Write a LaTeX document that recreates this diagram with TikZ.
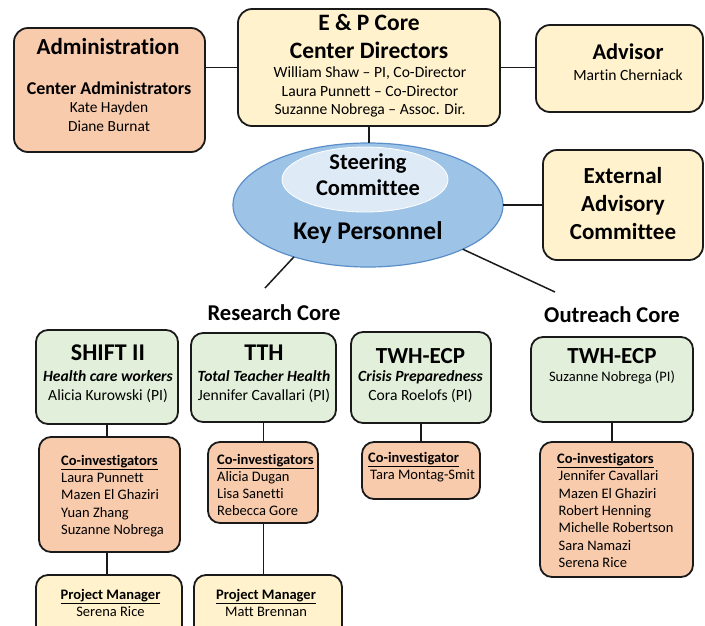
\documentclass[tikz,border=0pt]{standalone}
\usepackage{fontspec}
\setmainfont{Carlito}[Ligatures=NoCommon]
\usetikzlibrary{shapes.geometric}
\definecolor{peach}{HTML}{F8CBAD}
\definecolor{cream}{HTML}{FFF2CC}
\definecolor{mint}{HTML}{E2EFDA}
\definecolor{kpblue}{HTML}{9DC3E6}
\definecolor{kpedge}{HTML}{5B8FC9}
\definecolor{scfill}{HTML}{DEEBF7}
\definecolor{ink}{HTML}{1A1A1A}
\newcommand\setfs[2]{\fontsize{#1}{#2}\selectfont}
\begin{document}
\begin{tikzpicture}[x=1pt,y=-1pt,
  box/.style={draw=ink,line width=1.8pt,rounded corners=14pt,inner sep=0pt,outer sep=0pt},
  sbox/.style={box,rounded corners=12pt},
  txt/.style={inner sep=0pt,align=center,text=black},
  ltxt/.style={inner sep=0pt,align=left,text=black,anchor=west},
  conn/.style={draw=ink,line width=1.5pt},
  bigt/.style={font=\bfseries\setfs{23.5}{28}},
  names/.style={font=\setfs{15.6}{18.5}},
  list/.style={font=\setfs{14.5}{17.3}}]
\useasboundingbox (0,0) rectangle (705,625);

% top row
\node[box,fill=peach,minimum width=191,minimum height=124] (admin) at (109.5,90) {};
\node[box,fill=cream,minimum width=262,minimum height=117] (ep) at (369,67.5) {};
\node[box,fill=cream,minimum width=167,minimum height=87] (adv) at (619.5,68.5) {};
\node[box,fill=cream,minimum width=160,minimum height=110] (ext) at (623,205) {};
\node[ellipse,draw=kpedge,line width=1.2pt,fill=kpblue,minimum width=270,minimum height=124,inner sep=0pt,outer sep=0pt] (kp) at (368,205) {};
\node[ellipse,draw=white,line width=0.8pt,fill=scfill,minimum width=166,minimum height=65,inner sep=0pt] (sc) at (365,179.5) {};

% lower boxes
\node[sbox,fill=mint,minimum width=142,minimum height=94] (shift) at (107,377) {};
\node[sbox,fill=mint,minimum width=145,minimum height=89] (tth) at (263.5,377.5) {};
\node[sbox,fill=mint,minimum width=140,minimum height=91] (twhr) at (421,377.5) {};
\node[sbox,fill=mint,minimum width=162,minimum height=85] (twho) at (612,379.5) {};
\node[sbox,fill=peach,minimum width=141,minimum height=115] (cshift) at (109.5,494.5) {};
\node[sbox,fill=peach,minimum width=110,minimum height=81] (ctth) at (263,482.5) {};
\node[sbox,fill=peach,minimum width=118,minimum height=57] (ctara) at (421,470.5) {};
\node[sbox,fill=peach,minimum width=153,minimum height=135] (cout) at (616.5,509.5) {};
\node[sbox,fill=cream,minimum width=146,minimum height=65] (pmone) at (109,607.5) {};
\node[sbox,fill=cream,minimum width=148,minimum height=65] (pmtwo) at (268,607.5) {};

% connectors
\draw[conn] (ep.west) -- (ep.west -| admin.east);
\draw[conn] (ep.east) -- (ep.east -| adv.west);
\draw[conn] (ep.south) -- (ep.south |- kp.north);
\draw[conn] (kp.east) -- (kp.east -| ext.west);
\coordinate (rcend) at (265,288);
\coordinate (ocend) at (555,292);
\draw[conn] (kp.215) -- (rcend);
\draw[conn] (kp.-25) -- (ocend);
\draw[conn] (shift.south) -- (shift.south |- cshift.north);
\draw[conn] (shift.south |- cshift.south) -- (shift.south |- pmone.north);
\draw[conn] (tth.south) -- (tth.south |- ctth.north);
\draw[conn] (tth.south |- ctth.south) -- (tth.south |- pmtwo.north);
\draw[conn] (twhr.south) -- (twhr.south |- ctara.north);
\draw[conn] (twho.south) -- (twho.south |- cout.north);

% texts
\node[txt,font=\bfseries\setfs{23}{26}] (admt) at (108,47) {Administration};
\node[txt,font=\bfseries\setfs{18}{20}] (adms) at (109,88) {Center Administrators};
\node[txt,font=\setfs{15.4}{19}] (admn) at (109,117) {Kate Hayden\\Diane Burnat};

\node[txt,bigt] (ept) at (369,36) {E \& P Core\\Center Directors};
\node[txt,names] (epn) at (370,92) {William Shaw – PI, Co-Director\\Laura Punnett – Co-Director\\Suzanne Nobrega – Assoc. Dir.};

\node[txt,font=\bfseries\setfs{22.5}{26}] (advt) at (628,52) {Advisor};
\node[txt,names] (advn) at (628,75) {Martin Cherniack};

\node[txt,font=\bfseries\setfs{22.5}{26}] (sct) at (368,175) {Steering\\Committee};
\node[txt,font=\bfseries\setfs{25.5}{28}] (kpt) at (368,233) {Key Personnel};
\node[txt,font=\bfseries\setfs{23}{28}] (extt) at (623,204) {External\\Advisory\\Committee};

\node[txt,font=\bfseries\setfs{22.6}{24}] (rct) at (274,313) {Research Core};
\node[txt,font=\bfseries\setfs{22.6}{24}] (oct) at (612,315) {Outreach Core};

\node[txt,font=\bfseries\setfs{24}{26}] (shiftt) at (108,353) {SHIFT II};
\node[txt,font=\setfs{15.6}{19}] (shifts) at (108,387) {\textbf{\textit{Health care workers}}\\Alicia Kurowski (PI)};
\node[txt,font=\bfseries\setfs{24}{26}] (ttht) at (264,353) {TTH};
\node[txt,font=\setfs{15.6}{19}] (tths) at (264,387) {\textbf{\textit{Total Teacher Health}}\\Jennifer Cavallari (PI)};
\node[txt,font=\bfseries\setfs{23}{26}] (twhrt) at (420.5,356) {TWH-ECP};
\node[txt,font=\setfs{15.6}{19}] (twhrs) at (420.5,387) {\textbf{\textit{Crisis Preparedness}}\\Cora Roelofs (PI)};
\node[txt,font=\bfseries\setfs{23}{26}] (twhot) at (612,356) {TWH-ECP};
\node[txt,font=\setfs{14.5}{19}] (twhos) at (612,377) {Suzanne Nobrega (PI)};

\node[ltxt,list] (cshiftl) at (61,496) {\textbf{\underline{Co-investigators}}\\Laura Punnett\\Mazen El Ghaziri\\Yuan Zhang\\Suzanne Nobrega};
\node[ltxt,list] (ctthl) at (217,485) {\textbf{\underline{Co-investigators}}\\Alicia Dugan\\Lisa Sanetti\\Rebecca Gore};
\node[ltxt,list] (ctaral) at (368,467.5) {\textbf{\underline{Co-investigator}}\\\hspace*{2pt}Tara Montag-Smit};
\node[ltxt,list] (coutl) at (557,510.5) {\textbf{\underline{Co-investigators}}\\\hspace*{1.5pt}Jennifer Cavallari\\\hspace*{1.5pt}Mazen El Ghaziri\\\hspace*{1.5pt}Robert Henning\\\hspace*{1.5pt}Michelle Robertson\\\hspace*{1.5pt}Sara Namazi\\\hspace*{1.5pt}Serena Rice};

\node[txt,list] (pmonel) at (110.5,603) {\textbf{\underline{Project Manager}}\\Serena Rice};
\node[txt,list] (pmtwol) at (266,603) {\textbf{\underline{Project Manager}}\\Matt Brennan};
\end{tikzpicture}
\end{document}
